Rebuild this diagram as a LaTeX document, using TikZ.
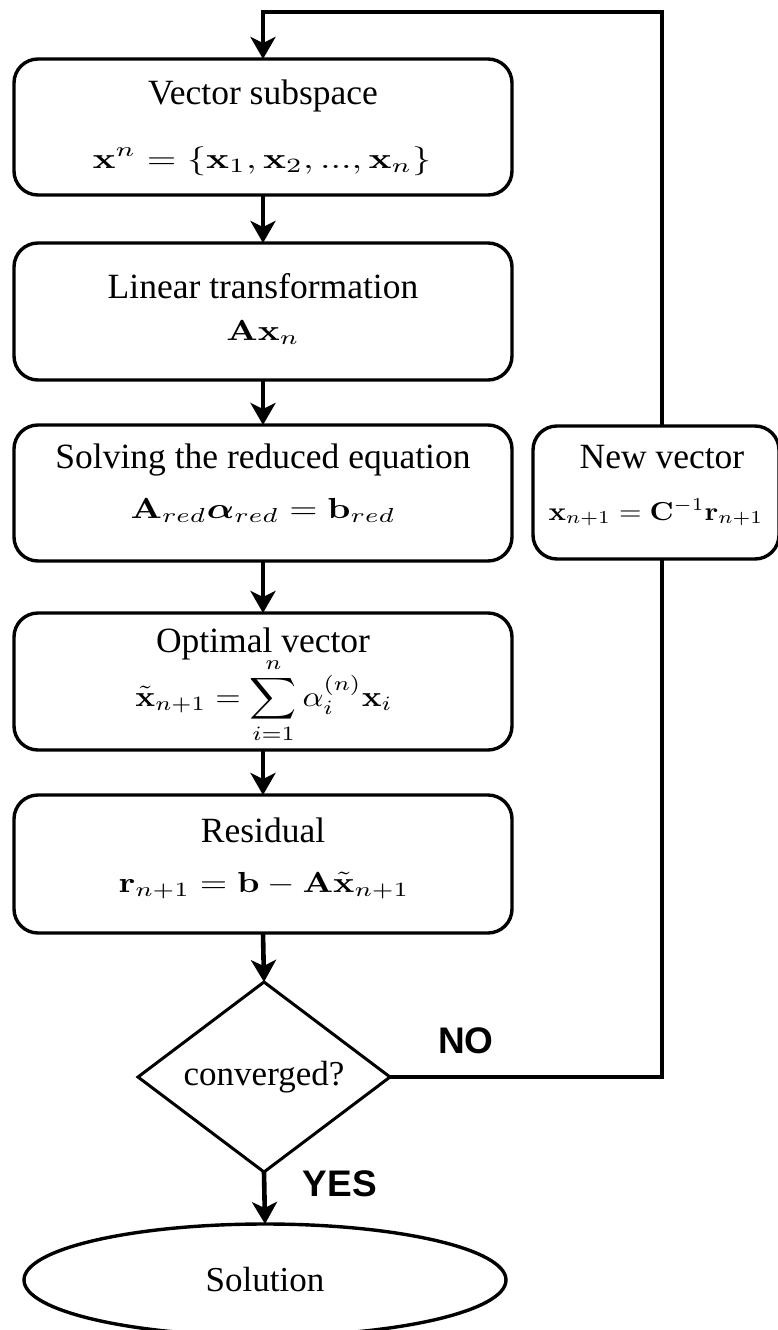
\documentclass[tikz,border=0pt]{standalone}
\usepackage{amsmath}
\usepackage[no-math]{fontspec}
\setmainfont{Liberation Serif}
\newfontfamily\labelfont{Liberation Sans}
\usepackage{graphicx}
\usetikzlibrary{arrows.meta,shapes.geometric}

% display formula set at 10pt and enlarged: #1 horizontal factor, #2 formula
\newcommand{\wideeq}[2]{\scalebox{#1}[2.9]{\fontsize{10}{12}\selectfont$\displaystyle #2$}}

\begin{document}
\begin{tikzpicture}[x=1pt,y=-1pt,
  box/.style={draw, line width=3.4pt, rounded corners=24pt, rectangle,
    inner sep=0pt, outer sep=0pt, minimum width=498pt},
  txt/.style={anchor=base, inner sep=0pt, font=\fontsize{35.5}{42}\selectfont},
  eqn/.style={anchor=base, inner sep=0pt},
  flow/.style={line width=4.6pt, -{Stealth[length=22pt,width=25pt,inset=6pt]}},
  link/.style={line width=4.6pt},
  tag/.style={anchor=base, inner sep=0pt,
    font=\labelfont\bfseries\fontsize{37}{44}\selectfont}]
\useasboundingbox (0,0) rectangle (777,1330);

% main column of steps
\node[box, minimum height=136pt] (b1) at (263,127) {};
\node[txt] (t1) at (263,104) {Vector subspace};
\node[eqn] (m1) at (262,168) {\wideeq{3.8}{\mathbf{x}^n=\{\mathbf{x}_1,\mathbf{x}_2,...,\mathbf{x}_n\}}};

\node[box, minimum height=137pt] (b2) at (263,311.5) {};
\node[txt] (t2) at (263,298) {Linear transformation};
\node[eqn] (m2) at (263,340) {\wideeq{3.62}{\mathbf{A}\mathbf{x}_n}};

\node[box, minimum height=136pt] (b3) at (263,493) {};
\node[txt] (t3) at (263,468) {Solving the reduced equation};
\node[eqn] (m3) at (263,518) {\wideeq{3.62}{\mathbf{A}_{red}\boldsymbol{\alpha}_{red}=\mathbf{b}_{red}}};

\node[box, minimum height=137pt] (b4) at (263,681.5) {};
\node[txt] (t4) at (263,652) {Optimal vector};
\node[eqn] (m4) at (264,706) {\wideeq{3.27}{\tilde{\mathbf{x}}_{n+1}=\sum_{i=1}^{n}\alpha_i^{(n)}\mathbf{x}_i}};

\node[box, minimum height=138pt] (b5) at (263,864) {};
\node[txt] (t5) at (263,842) {Residual};
\node[eqn] (m5) at (264,892) {\wideeq{3.52}{\mathbf{r}_{n+1}=\mathbf{b}-\mathbf{A}\tilde{\mathbf{x}}_{n+1}}};

% decision and end
\node[draw, diamond, aspect=1.3, line width=3pt, minimum width=252pt,
  minimum height=190pt, inner sep=0pt, outer sep=0pt,
  font=\fontsize{35}{42}\selectfont] (dia) at (264,1077) {converged?};
\node[draw, ellipse, line width=3.4pt, minimum width=482pt, minimum height=112pt,
  inner sep=0pt, outer sep=0pt, font=\fontsize{35}{42}\selectfont]
  (sol) at (265,1280) {Solution};

% update step on the return path
\node[box, minimum width=246pt, minimum height=133pt] (nv) at (656,492.5) {};
\node[txt] (t6) at (662,468) {New vector};
\node[eqn] (m6) at (656,520)
  {\scalebox{2.89}[2.6]{\fontsize{10}{12}\selectfont$\mathbf{x}_{n+1}=\mathbf{C}^{-1}\mathbf{r}_{n+1}$}};

\coordinate (rx) at (662,0);
\coordinate (top) at (0,12);

% connectors
\draw[flow] (b1.south) -- (b2.north);
\draw[flow] (b2.south) -- (b3.north);
\draw[flow] (b3.south) -- (b4.north);
\draw[flow] (b4.south) -- (b5.north);
\draw[flow] (b5.south) -- (dia.north);
\draw[flow] (dia.south) -- (sol.north);
\draw[link] (dia.east) -| (nv.south -| rx);
\draw[flow] (nv.north -| rx) |- (b1.north |- top) -- (b1.north);

\node[tag] (no) at (466,1053) {NO};
\node[tag] (yes) at (340,1196) {YES};
\end{tikzpicture}
\end{document}
